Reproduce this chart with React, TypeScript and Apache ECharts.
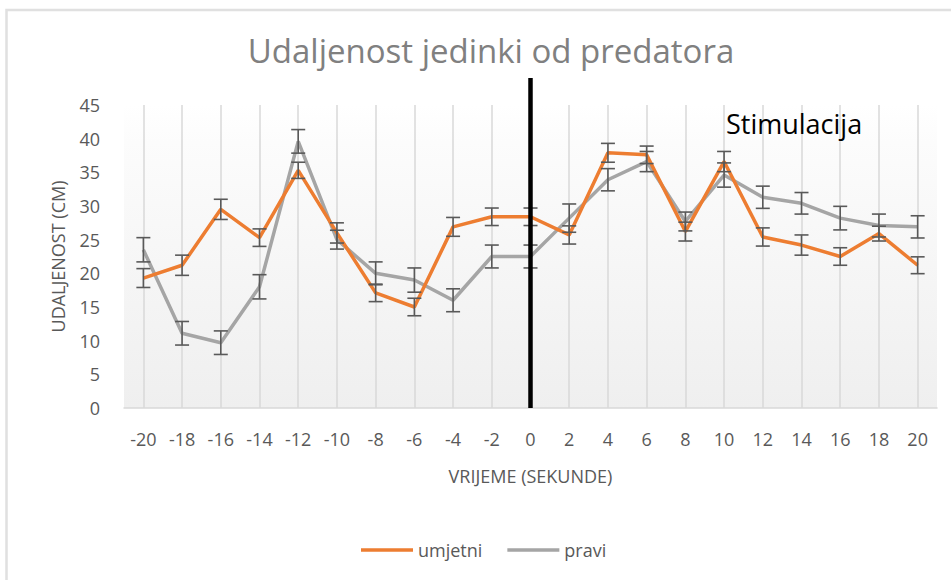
import React, { useEffect, useRef } from "react";
import * as echarts from "echarts";

const categories = ["-20","-18","-16","-14","-12","-10","-8","-6","-4","-2","0","2","4","6","8","10","12","14","16","18","20"];
const umjetni = [19.3, 21.2, 29.5, 25.3, 35.3, 26.0, 17.1, 15.0, 26.9, 28.4, 28.4, 25.7, 37.9, 37.6, 26.2, 36.6, 25.4, 24.2, 22.5, 25.9, 21.2];
const umjetniErr = [1.4, 1.5, 1.5, 1.3, 1.2, 1.5, 1.3, 1.3, 1.4, 1.3, 1.3, 1.35, 1.4, 1.3, 1.4, 1.5, 1.35, 1.5, 1.3, 1.1, 1.25];
const pravi = [23.5, 11.1, 9.7, 18.0, 39.6, 25.0, 20.0, 19.0, 16.0, 22.5, 22.5, 28.2, 33.9, 36.6, 27.7, 34.6, 31.3, 30.4, 28.2, 27.1, 26.9];
const praviErr = [1.8, 1.75, 1.75, 1.8, 1.75, 1.4, 1.7, 1.8, 1.7, 1.7, 1.7, 2.1, 1.65, 1.5, 1.4, 1.8, 1.65, 1.6, 1.75, 1.7, 1.65];
const stimulationAt = "0";
const stimulationTop = 49;
const yTicks = { min: 0, max: 45, interval: 5 };

const errData = (vals: number[], errs: number[]) =>
  vals.map((v, i) => [i, v - errs[i], v + errs[i]]);

const errorRender = (params: any, api: any) => {
  const x = api.value(0);
  const p1 = api.coord([x, api.value(1)]);
  const p2 = api.coord([x, api.value(2)]);
  const hw = 7;
  const style = { stroke: "#595959", lineWidth: 1.6 };
  return {
    type: "group",
    children: [
      { type: "line", shape: { x1: p1[0], y1: p1[1], x2: p2[0], y2: p2[1] }, style },
      { type: "line", shape: { x1: p1[0] - hw, y1: p1[1], x2: p1[0] + hw, y2: p1[1] }, style },
      { type: "line", shape: { x1: p2[0] - hw, y1: p2[1], x2: p2[0] + hw, y2: p2[1] }, style },
    ],
  };
};

const markerRender = (params: any, api: any) => {
  const x = api.value(0);
  const p1 = api.coord([x, api.value(1)]);
  const p2 = api.coord([x, api.value(2)]);
  return {
    type: "line",
    shape: { x1: p1[0], y1: p1[1], x2: p2[0], y2: p2[1] },
    style: { stroke: "#000000", lineWidth: 4.5 },
  };
};

export default function App() {
  const ref = useRef<HTMLDivElement>(null);
  useEffect(() => {
    if (!ref.current) return;
    const chart = echarts.init(ref.current, undefined, { renderer: "svg" });
    const font = "'Open Sans', 'Noto Sans', sans-serif";
    chart.setOption({
      animation: false,
      backgroundColor: "#ffffff",
      textStyle: { fontFamily: font },
      title: {
        text: "Udaljenost jedinki od predatora",
        left: 486,
        textAlign: "center",
        top: 29,
        textStyle: { fontFamily: font, fontSize: 33, fontWeight: "normal", color: "#808080" },
      },
      graphic: [
        {
          type: "rect",
          shape: { x: 6.5, y: 10, width: 960, height: 600 },
          style: { fill: "none", stroke: "#e0e0e0", lineWidth: 2.5 },
          silent: true,
        },
        {
          type: "text",
          left: 726,
          top: 110,
          z: 20,
          style: { text: "Stimulacija", fontFamily: font, fontSize: 27, fill: "#000000" },
          silent: true,
        },
      ],
      legend: {
        left: 356,
        top: 536,
        icon: "rect",
        itemWidth: 52,
        itemHeight: 3.5,
        itemGap: 25,
        data: ["umjetni", "pravi"],
        textStyle: { fontFamily: font, fontSize: 18, color: "#595959" },
      },
      grid: {
        left: 124,
        right: 14,
        top: 105,
        bottom: 172,
        show: true,
        borderWidth: 0,
        backgroundColor: new echarts.graphic.LinearGradient(0, 0, 0, 1, [
          { offset: 0, color: "#ffffff" },
          { offset: 0.12, color: "#fcfcfc" },
          { offset: 1, color: "#efefef" },
        ]),
      },
      xAxis: {
        type: "category",
        data: categories,
        boundaryGap: true,
        name: "VRIJEME (SEKUNDE)",
        nameLocation: "middle",
        nameGap: 59,
        nameTextStyle: { fontFamily: font, fontSize: 18, color: "#595959" },
        axisLine: { show: true, lineStyle: { color: "#d9d9d9", width: 1.5 } },
        axisTick: { show: false, alignWithLabel: true },
        axisLabel: { margin: 22, fontFamily: font, fontSize: 18, color: "#595959", interval: 0 },
        splitLine: { show: true, alignWithLabel: true, lineStyle: { color: "#d9d9d9", width: 1.5 } },
      },
      yAxis: {
        type: "value",
        min: yTicks.min,
        max: yTicks.max,
        interval: yTicks.interval,
        name: "UDALJENOST (CM)",
        nameLocation: "middle",
        nameGap: 57,
        nameTextStyle: { fontFamily: font, fontSize: 18, color: "#595959" },
        axisLine: { show: false },
        axisTick: { show: false },
        splitLine: { show: false },
        axisLabel: { margin: 24, fontFamily: font, fontSize: 18, color: "#595959" },
      },
      series: [
        {
          name: "umjetni",
          type: "line",
          data: umjetni,
          symbol: "none",
          lineStyle: { color: "#ed7d31", width: 3.5 },
          itemStyle: { color: "#ed7d31" },
          z: 3,
        },
        {
          name: "pravi",
          type: "line",
          data: pravi,
          symbol: "none",
          lineStyle: { color: "#a5a5a5", width: 3.5 },
          itemStyle: { color: "#a5a5a5" },
          z: 2,
        },
        {
          name: "umjetniErr",
          type: "custom",
          data: errData(umjetni, umjetniErr),
          encode: { x: 0, y: [1, 2] },
          renderItem: errorRender,
          z: 5,
        },
        {
          name: "praviErr",
          type: "custom",
          data: errData(pravi, praviErr),
          encode: { x: 0, y: [1, 2] },
          renderItem: errorRender,
          z: 5,
        },
        {
          name: "stimulacija",
          type: "custom",
          data: [[categories.indexOf(stimulationAt), yTicks.min, stimulationTop]],
          encode: { x: 0, y: [1, 2] },
          renderItem: markerRender,
          clip: false,
          z: 6,
        },
      ],
    });
    return () => chart.dispose();
  }, []);
  return (
    <div
      ref={ref}
      style={{ position: "fixed", left: 0, top: 0, width: 951, height: 580 }}
    />
  );
}
